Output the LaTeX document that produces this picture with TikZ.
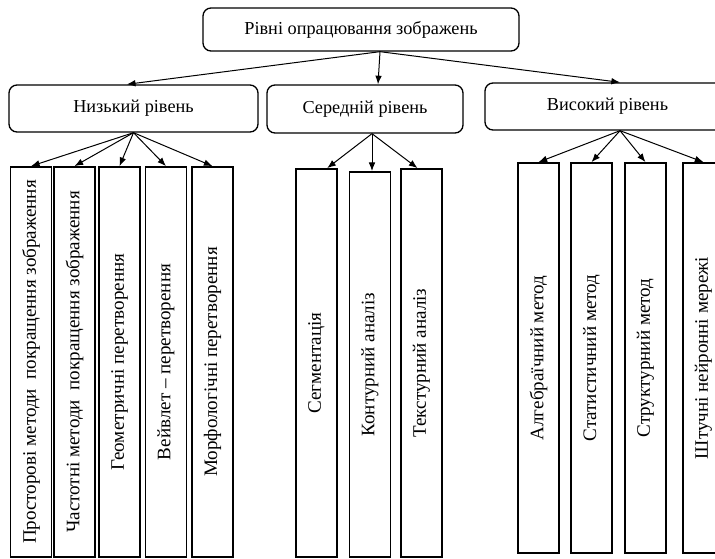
\documentclass[tikz,border=0pt]{standalone}
\usepackage{fontspec}
\setmainfont{Liberation Serif}
\usetikzlibrary{arrows.meta,positioning}

\tikzset{
  lvl/.style={draw,line width=1pt,rounded corners=6pt,inner sep=0pt,font=\fontsize{13.7pt}{16pt}\selectfont},
  vbox/.style={draw,line width=1.3pt,inner sep=0pt,minimum width=30.75pt,minimum height=292.5pt,font=\fontsize{14.3pt}{17pt}\selectfont},
  arr/.style={-{Latex[length=6.5pt,width=5pt]},line width=0.75pt},
}
\newcommand{\vtext}[1]{\rotatebox{90}{#1}}

\begin{document}
\begin{tikzpicture}[x=0.75pt,y=-0.75pt]
  \useasboundingbox (0,0) rectangle (715,558);
  \clip (0,0) rectangle (715,558);
  % root
  \node[lvl,minimum width=237pt,minimum height=32.25pt] (top) at (361,29.5) {Рівні опрацювання зображень};
  % levels
  \node[lvl,minimum width=186.75pt,minimum height=35.25pt] (low) at (133.5,108.5) {Низький рівень};
  \node[lvl,minimum width=147pt,minimum height=36pt] (mid) at (365,109) {Середній рівень};
  \node[lvl,minimum width=183.75pt,minimum height=35.25pt] (high) at (607.5,106.5) {Високий рівень};
  % low level methods
  \node[vbox] (low1) at (31,362) {\vtext{Просторові методи~ покращення зображення}};
  \node[vbox] (low2) at (74.5,362) {\vtext{Частотні методи~ покращення зображення}};
  \node[vbox] (low3) at (119.5,362) {\vtext{Геометричні перетворення}};
  \node[vbox] (low4) at (166,362) {\vtext{Вейвлет – перетворення}};
  \node[vbox] (low5) at (212.5,362) {\vtext{Морфологічні перетворення}};
  % middle level methods
  \node[vbox,minimum height=291pt] (mid1) at (316.5,363) {\vtext{Сегментація}};
  \node[vbox,minimum height=288.75pt] (mid2) at (370,364.5) {\vtext{Контурний аналіз}};
  \node[vbox,minimum height=291pt] (mid3) at (421.5,363) {\vtext{Текстурний аналіз}};
  % high level methods
  \node[vbox] (high1) at (538.5,358) {\vtext{Алгебраїчний метод}};
  \node[vbox] (high2) at (591.5,358) {\vtext{Статистичний метод}};
  \node[vbox] (high3) at (645.5,358) {\vtext{Структурний метод}};
  \node[vbox] (high4) at (703.5,358) {\vtext{Штучні нейронні мережі}};
  % arrows
  \coordinate (top-o) at ([xshift=14.25pt]top.south);
  \draw[arr] (top-o) -- ([xshift=-5pt]low.north);
  \draw[arr] (top-o) -- ([xshift=9.75pt]mid.north);
  \draw[arr] (top-o) -- ([xshift=9.4pt]high.north);
  \foreach \i in {1,...,5}
    \draw[arr] (low.south) -- (low\i.north);
  \coordinate (mid-o) at ([xshift=5.25pt]mid.south);
  \draw[arr] (mid-o) -- ([xshift=8pt]mid1.north);
  \draw[arr] (mid-o) -- ([xshift=1.5pt]mid2.north);
  \draw[arr] (mid-o) -- ([xshift=-3pt]mid3.north);
  \coordinate (high-o) at ([xshift=9.4pt]high.south);
  \foreach \i in {1,...,4}
    \draw[arr] (high-o) -- (high\i.north);
\end{tikzpicture}
\end{document}
